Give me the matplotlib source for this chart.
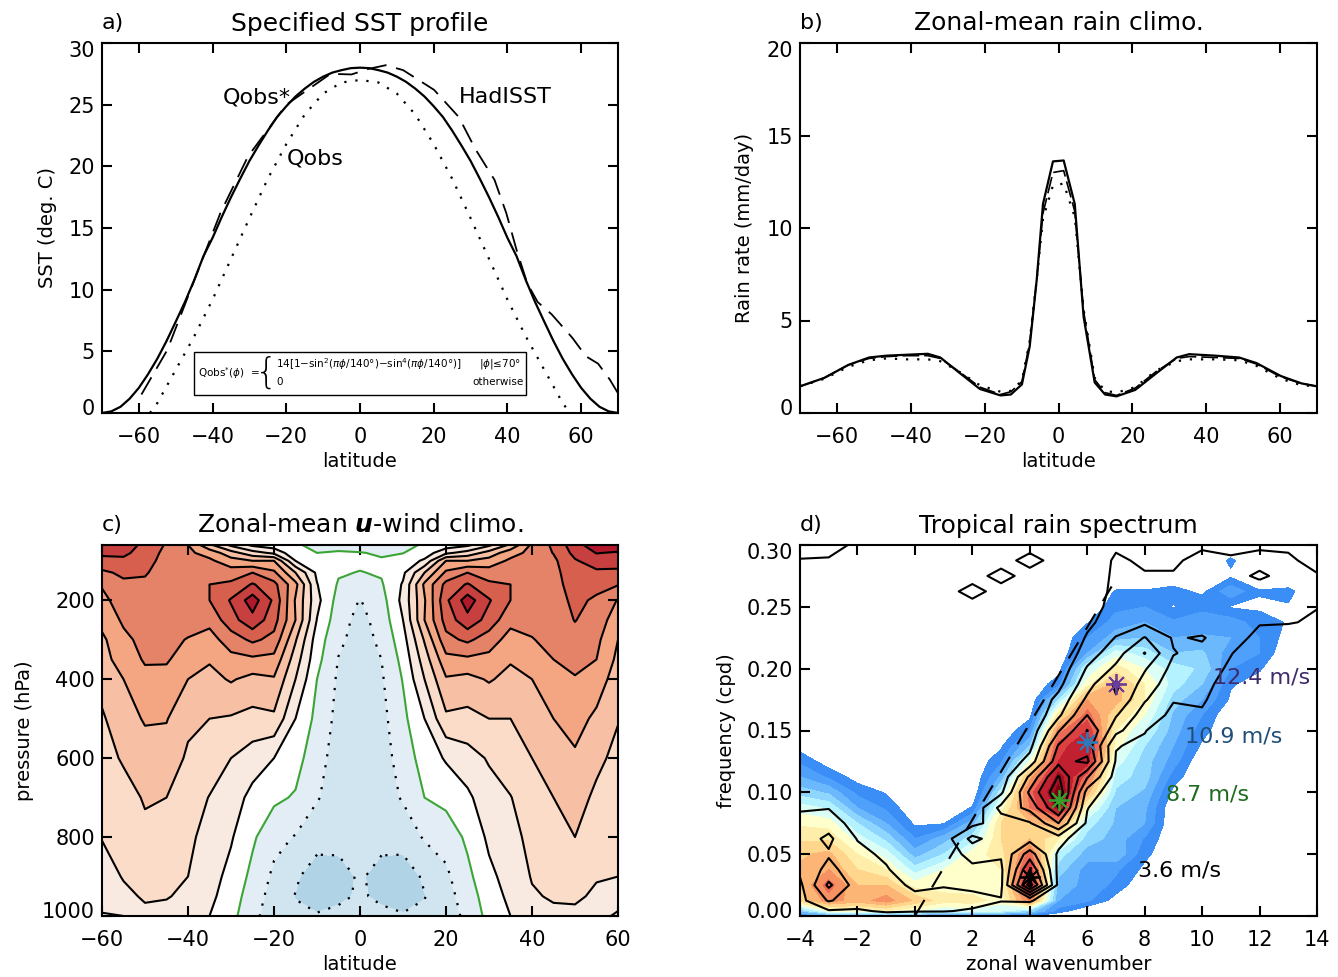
import numpy as np
import matplotlib
matplotlib.use('Agg')
import matplotlib.pyplot as plt
from matplotlib.patches import Rectangle
from matplotlib.transforms import ScaledTranslation

# panel a: SST profiles
lat_qobs_star = [-70, -67.5, -65, -62.5, -60, -57.5, -55, -52.5, -50, -47.5, -45, -42.5, -40, -37.5, -35, -32.5,
                 -30, -27.5, -25, -22.5, -20, -17.5, -15, -12.5, -10, -7.5, -5, -2.5, 0,
                 2.5, 5, 7.5, 10, 12.5, 15, 17.5, 20, 22.5, 25, 27.5, 30, 32.5, 35, 37.5,
                 40, 42.5, 45, 47.5, 50, 52.5, 55, 57.5, 60, 62.5, 65, 67.5, 70]
sst_qobs_star = [0, 0.13, 0.5, 1.16, 2.04, 3.15, 4.4, 5.83, 7.4, 9.0, 10.76, 12.7, 14.2, 15.9, 17.5, 19.0,
                 20.44, 21.7, 22.9, 24, 24.87, 25.66, 26.3, 26.85, 27.27, 27.6, 27.8, 27.96, 28,
                 27.96, 27.8, 27.6, 27.27, 26.85, 26.3, 25.66, 24.87, 24, 22.9, 21.7, 20.44, 19.0, 17.5, 15.9,
                 14.2, 12.7, 10.76, 9.0, 7.4, 5.83, 4.4, 3.15, 2.04, 1.16, 0.5, 0.13, 0]
lat_qobs = [-57, -55, -50, -45, -40, -35, -30, -25, -20, -15, -10, -5, 0,
            5, 10, 15, 20, 25, 30, 35, 40, 45, 50, 55, 57]
sst_qobs = [0, 0.8, 3.5, 6.2, 9.2, 12.5, 15.8, 19, 21.8, 24.2, 25.9, 26.8, 27,
            26.8, 25.9, 24.2, 21.8, 19, 15.8, 12.5, 9.2, 6.2, 3.5, 0.8, 0]
lat_had = [-59.3, -52.3, -45.3, -37.9, -30.4, -20, -8, -2.3, 2.3, 7, 11.7, 20.1, 26.8, 31.3,
           36.5, 39.7, 42.5, 45.4, 48.2, 52, 57.6, 61.3, 64.6, 67.8, 70]
sst_had = [1.5, 5.1, 10.5, 16.2, 20.8, 25, 27.5, 27.45, 27.9, 28.2, 27.8, 26.2, 24, 21.4,
           18.9, 16.2, 13.2, 10.5, 9, 8, 6.1, 4.6, 4, 2.7, 1.6]

# panel b: rain
lat_rain = [-70, -63.4, -56.9, -51.3, -46.6, -41, -35.4, -32, -27, -21.3, -15.7, -12.9, -9.9, -7.8, -5.9,
            -4.2, -1.5, 1.4, 4.4, 6.8, 9.8, 12.6, 15.7, 20.8, 26.5, 32, 35.4, 42.4, 48.9, 53.6, 60.2, 65.8, 70]
rain_solid = [1.44, 1.9, 2.6, 3.0, 3.1, 3.15, 3.2, 3.0, 2.2, 1.3, 0.95, 1.0, 1.55, 3.6, 7.2,
              11.3, 13.6, 13.65, 11.3, 5.2, 1.65, 1.0, 0.9, 1.25, 2.15, 3.0, 3.18, 3.1, 3.0, 2.7, 2.0, 1.6, 1.44]
rain_dash = [1.44, 1.9, 2.6, 2.95, 3.05, 3.1, 3.1, 2.95, 2.25, 1.4, 1.0, 1.15, 1.7, 3.8, 7.2,
             10.8, 13.0, 13.1, 10.9, 5.5, 1.8, 1.1, 0.95, 1.35, 2.25, 2.95, 3.05, 3.0, 2.95, 2.65, 1.95, 1.6, 1.44]
rain_dot = [1.44, 1.85, 2.5, 2.85, 2.95, 2.9, 2.9, 2.8, 2.25, 1.5, 1.15, 1.2, 1.75, 3.9, 7.2,
            10.5, 12.3, 12.4, 10.6, 5.6, 1.9, 1.2, 1.1, 1.4, 2.3, 2.8, 2.9, 2.9, 2.85, 2.55, 1.85, 1.5, 1.44]

# panel c: zonal wind, one row per latitude
lat_u = [-60, -55, -50, -45, -40, -35, -30, -25, -20, -15, -10, -5, 0,
         5, 10, 15, 20, 25, 30, 35, 40, 45, 50, 55, 60]
pres_u = [60, 80, 100, 130, 160, 200, 250, 300, 350, 400, 500, 600, 700, 800, 900, 950, 1000]
u_wind = [
    [38, 36, 33.5, 29, 25.5, 23.5, 21.5, 19, 18, 16.6, 14.4, 13, 11.8, 10.2, 8, 6.5, 4.7],
    [38, 36, 34, 31, 29, 27.7, 25.8, 23.8, 22.5, 20, 17.8, 15.6, 13, 11.5, 10.3, 9, 5],
    [33.5, 33, 32, 30.5, 29, 28, 27.3, 26.5, 25.5, 23.7, 20.5, 17.7, 15.5, 13.8, 11.5, 10.5, 9],
    [29.5, 28.5, 28, 27.5, 27, 27, 26.8, 26, 25.5, 23.5, 20.3, 17.6, 15, 13, 11, 10.3, 8.5],
    [25, 26, 26.5, 27, 27.5, 27.5, 26.5, 24.8, 22.7, 20, 16, 14.3, 12.6, 11, 10, 9, 7.5],
    [16, 23, 26, 28, 30, 30, 26.5, 23, 20.5, 18.5, 15, 12.8, 9.8, 8.3, 7, 6.2, 5],
    [9, 17, 22, 27.5, 31, 35.5, 33, 27.5, 23.5, 20.5, 14.5, 10, 7.5, 5.5, 3.5, 2.5, 1.5],
    [4, 12, 20, 30, 35.5, 42.5, 38.5, 31, 24, 18.5, 13.5, 7.5, 3.5, 0.8, -1.3, -2.5, -3.5],
    [2, 9, 20, 26, 31.5, 34, 32, 28.5, 23.5, 19.5, 14, 5, 1, -3.5, -6, -7, -8],
    [0.7, 1, 5, 15, 21.5, 19.5, 20, 15.5, 12.5, 10, 5, 2, -0.5, -5.3, -9.3, -10.2, -9],
    [-1.5, 0, 2, 4, 5.2, 6.5, 4.8, 2.5, 1.5, 0, -1.5, -3.3, -4.6, -8, -12.5, -12.5, -9.5],
    [-1, 0.3, 1, 0.5, -0.5, -2, -3, -4, -5.2, -5.8, -6.5, -7, -7.5, -8.7, -11.5, -10.8, -9],
    [-2, 0.2, 1, -0.2, -3, -5.2, -6.5, -7, -7.5, -8, -8, -8.3, -8.5, -9, -9.5, -9.5, -8.5],
    [-2, -0.5, 0.4, 0.5, -0.5, -2, -3, -4, -5, -5.6, -6.5, -7, -7.5, -8.7, -11.5, -10.8, -9],
    [-1.2, -0.1, 1.5, 4, 5.5, 6.5, 5, 3, 1.5, 0.3, -1.3, -3, -4.5, -8, -12.5, -12.5, -9.5],
    [0.5, 2, 6, 15, 21, 19.5, 20, 15.5, 12.5, 10, 5, 2.3, 0, -4.5, -9.3, -10.2, -9],
    [2, 9, 20, 26, 31.5, 34, 32, 28.5, 23.5, 19.5, 14, 5.5, 1.5, -3, -6, -7, -8],
    [4, 12, 20, 30, 35.5, 42.5, 38.5, 31, 24, 18.5, 13.5, 8, 4, 1, -1.3, -2.5, -3.5],
    [9, 17, 22, 27.5, 31, 35.5, 33, 27.5, 23.5, 20.5, 15, 10.5, 8, 6, 3.8, 2.5, 1.5],
    [16, 23, 26, 28, 30, 30, 26.5, 23, 20.5, 18.5, 15, 12.8, 9.8, 8.3, 7, 6.2, 5],
    [26, 26.5, 27, 27.5, 27.5, 27.2, 26.2, 24.8, 22.5, 20, 17, 15, 13, 11.5, 10.3, 9.5, 7],
    [31, 30.2, 29, 28.3, 28, 27.7, 27, 26.2, 25, 23.5, 20, 17.3, 15, 13.5, 11.5, 10.5, 9],
    [38, 36.5, 34.5, 33.5, 32.5, 31.2, 30.2, 28.2, 27, 24.5, 21.8, 19.3, 17.2, 15, 12, 10.7, 9],
    [43, 40.2, 37.5, 34, 31.5, 29.2, 27.5, 26.2, 25, 22.5, 19, 16.3, 13.9, 12, 10.3, 9.3, 7],
    [43, 39.5, 37, 34, 30.3, 24.7, 22.5, 20, 18.8, 17.6, 15.3, 13.5, 12, 11, 10, 8, 4],
]
u_fill_levels = [-15, -10, -5, 0, 5, 10, 15, 20, 25, 30, 35, 40, 45]
u_fill_colors = ['#b1d3e6', '#d1e5f1', '#e3edf5', '#ffffff', '#f9eae1', '#fbdcc9', '#f7bfa4',
                 '#f4a582', '#e58368', '#d6604d', '#c73f3f', '#b2182b']

# panel d: spectrum, one row per wavenumber, frequency going up
wavenumber = list(range(-4, 15))
freq = [0, 0.004, 0.0125, 0.025, 0.0375, 0.05, 0.0625, 0.075, 0.0875, 0.1, 0.1125, 0.125, 0.1375,
        0.15, 0.1625, 0.175, 0.1875, 0.2, 0.2125, 0.225, 0.2375, 0.25, 0.2625, 0.275, 0.2875, 0.3]
power_fill = [
    [2, 4, 9.3, 10, 10.2, 9.8, 8.8, 7.8, 6.5, 4.5, 3, 1.8, 0.5] + [0]*13,
    [2.5, 7, 11.5, 12.5, 11, 10.3, 8.8, 7.5, 5.8, 3.8, 1.8, 0.4] + [0]*14,
    [3, 7.5, 10.5, 10, 9, 8, 6.5, 5, 3, 1.7, 0.5] + [0]*15,
    [3, 8, 11.5, 10, 8, 6.5, 4.7, 3, 1.8, 0.9] + [0]*16,
    [2.5, 7, 9.8, 7.5, 5.5, 3.5, 2, 0.8] + [0]*18,
    [2, 6, 8.5, 7.5, 7, 5, 3.5, 0.9] + [0]*18,
    [1.8, 6.5, 8.5, 7.2, 7.5, 7.5, 5.5, 3.5, 1.1] + [0]*17,
    [1.5, 6, 7.5, 7.5, 8, 8.5, 9, 9, 7.5, 5.5, 3.2, 1.8, 0.8] + [0]*13,
    [1.2, 4.5, 12, 15, 14, 12.5, 10, 9.8, 12, 12.5, 10.5, 7, 4, 2, 0.6] + [0]*11,
    [0, 1.5, 3, 3.5, 4.5, 5.5, 8, 11, 15.5, 16.5, 15.5, 14, 13.5, 11.5, 8.5, 5, 1.6, 0.5] + [0]*8,
    [0, 0, 2.2, 2.7, 2.5, 3.5, 4.5, 5.5, 7.5, 10.5, 12.5, 14.5, 15, 14, 12.5, 11, 7.5, 6, 3, 2, 0.9] + [0]*5,
    [0, 0, 0.5, 1.7, 2.2, 3.8, 3.6, 3.8, 4, 4.8, 5.5, 6.5, 7.5, 8, 9, 10.5, 10.5, 8.5, 6.5, 3.5, 2.5, 1.7, 1.1, 0, 0, 0],
    [0, 0, 0, 0, 0.7, 1.3, 1.9, 3, 3.2, 3.8, 4.5, 4.5, 5, 6, 7, 8, 8, 7, 5.5, 4, 3, 2, 1.1, 0, 0, 0],
    [0, 0, 0, 0, 0, 0, 0, 0, 0, 0.7, 1.5, 2.5, 3, 3.5, 3.8, 4.5, 5.5, 5.5, 4, 3, 2.2, 0.9, 1.5, 0, 0, 0],
    [0]*12 + [0.8, 1.4, 2, 3, 4, 4.8, 4.2, 3.2, 2.2, 1.9, 0.7, 0, 0, 0],
    [0]*15 + [0.8, 1.1, 2, 2.4, 3, 2.5, 0.9, 2.8, 0.8, 1.2, 0],
    [0]*16 + [0.6, 1.1, 2, 2, 1.5, 0.8, 1.1, 0, 0, 0],
    [0]*19 + [0.5, 0.9, 0.9, 1.3, 0, 0, 0],
    [0]*26,
]
power_line = [
    [0, 0.3, 0.7, 0.8, 1.2, 1.5, 1.5, 1.3, 0.9, 0.3] + [0]*13 + [0.6, 0.95, 1.4],
    [0, 0.9, 2.1, 3.2, 2.3, 1.9, 2.2, 1.6, 0.95, 0.4] + [0]*13 + [0.5, 0.95, 1.2],
    [0.5, 0.9, 1.4, 1.5, 1.4, 1.3, 0.95, 0.5] + [0]*17 + [0.9],
    [0.7, 1.1, 1.5, 1.4, 1.1, 0.8, 0.4] + [0]*19,
    [0.6, 1.05, 1.3, 0.8, 0.3] + [0]*21,
    [0.5, 1.05, 1.3, 0.95, 0.5, 0.5, 0.5, 0.3] + [0]*18,
    [0.3, 0.9, 1.3, 0.8, 0.8, 1.3, 2.3, 0.7, 0.2] + [0]*13 + [1.9, 0, 0, 0],
    [0, 0.5, 1.05, 0.8, 0.8, 1.1, 1.4, 1.5, 2.3, 0.8, 0.3] + [0]*12 + [1.9, 0, 0],
    [0, 0.4, 1.1, 6.5, 5, 3.5, 1.6, 1.9, 3.3, 4.2, 3.2, 1.4, 0.7, 0.3] + [0]*10 + [1.9, 0],
    [0, 0, 0.3, 0.7, 0.7, 0.8, 1.5, 4, 6, 6.8, 6.1, 4.7, 4.1, 2.9, 1.8, 1.3, 0.7, 0.3, 0] + [0]*7,
    [0, 0, 0, 0, 0, 0, 0, 0.8, 1.05, 1.6, 3.1, 5.2, 4.6, 5.05, 4, 3.2, 2.6, 2.1, 1.5, 1.1, 0.8, 0.5, 0.3, 0, 0, 0],
    [0, 0, 0, 0, 0, 0, 0, 0, 0, 0.3, 0.6, 0.9, 1.05, 2.3, 3.1, 3.9, 4.2, 3.2, 2.6, 2.05, 1.5, 1.4, 1.3, 1.3, 1.2, 0.8],
    [0]*11 + [0.3, 0.8, 1.05, 1.5, 2.1, 2.6, 3.1, 4.05, 3.05, 1.8, 1.6, 1.5, 1.1, 0.8, 0.8],
    [0]*13 + [0.3, 0.8, 1.05, 1.4, 1.7, 2.05, 1.9, 1.5, 1.4, 1.3, 1.05, 0.9, 0.5],
    [0]*14 + [0.8, 1.2, 1.5, 1.6, 1.7, 2.1, 1.4, 1.4, 1.3, 1.2, 1.2, 0.9],
    [0]*16 + [0.3, 0.8, 1.05, 1.3, 1.5, 1.4, 1.3, 1.2, 1.05, 0.9],
    [0]*18 + [0.3, 0.8, 1.05, 1.3, 1.3, 0.9, 1.2, 0.9],
    [0]*18 + [0.2, 0.6, 1.05, 1.3, 1.3, 1.2, 1.1, 0.9],
    [0]*19 + [0.5, 0.9, 1.02, 1.3, 1.05, 0.8, 1.0],
]
power_levels = list(range(1, 18))
power_colors = ['#3b8ef5', '#4fa0fa', '#6cb8fd', '#8fd6ff', '#b5f2ff', '#dcfff5', '#ffffcc', '#ffeeaa',
                '#ffd68c', '#fcb574', '#f69262', '#ea6a55', '#dc4040', '#c02030', '#a01020', '#7a0010']
line_levels = [1, 2, 3, 4, 5, 6, 7, 8]
dash_wave = [0, 6.85]
dash_freq = [0, 0.2665]
star_wave = [4, 5, 6, 7]
star_freq = [0.0318, 0.0939, 0.141, 0.1877]
star_colors = ['black', '#33a02c', '#2b7bba', '#6a3d9a']
speed_labels = ['3.6 m/s', '8.7 m/s', '10.9 m/s', '12.4 m/s']
speed_wave = [7.77, 8.74, 9.4, 10.38]
speed_freq = [0.0364, 0.0986, 0.1455, 0.1925]
speed_colors = ['black', '#1e6b1e', '#1f4e79', '#3f2a6b']

W, H = 1338, 977
FS = 15
plt.rcParams['font.family'] = 'DejaVu Sans'
plt.rcParams['mathtext.fontset'] = 'dejavusans'
fig = plt.figure(figsize=(W/100, H/100), dpi=100)


def make_axes(x0, x1, y0, y1):
    ax = fig.add_axes([x0/W, 1 - y1/H, (x1 - x0)/W, (y1 - y0)/H])
    for s in ax.spines.values():
        s.set_linewidth(1.5)
    ax.tick_params(direction='in', top=True, right=True, length=7.5, width=1.5, labelsize=FS)
    ax.tick_params(axis='x', pad=10)
    ax.tick_params(axis='y', pad=5)
    return ax


def shift_label(label, px):
    # end labels sit a few pixels inside the axis, like in the original
    label.set_transform(label.get_transform() + ScaledTranslation(0, px/100, fig.dpi_scale_trans))


def finish(ax, tag, title, xlabel, ylabel, ylab_px, ax_x0, width):
    ax.text(0, 1 + 20/(ax.get_position().height*H), tag, transform=ax.transAxes, fontsize=FS + 1,
            va='center', ha='left')
    ax.set_title(title, fontsize=18, pad=9)
    ax.set_xlabel(xlabel, fontsize=FS - 1, labelpad=3.5)
    ax.set_ylabel(ylabel, fontsize=FS - 1)
    ax.yaxis.set_label_coords((ylab_px + 11 - ax_x0)/width, 0.5)


# a)
ax = make_axes(102, 618, 43, 413)
ax.plot(lat_qobs_star, sst_qobs_star, color='k', lw=1.6)
ax.plot(lat_qobs, sst_qobs, color='k', lw=1.6, ls=(0, (1, 4)))
ax.plot(lat_had, sst_had, color='k', lw=1.3, ls=(0, (11, 5.5)))
ax.set_xlim(-70, 70)
ax.set_ylim(0, 30)
ax.set_xticks(range(-60, 61, 20))
ax.set_yticks(range(0, 31, 5))
ax.text(-37.2, 25.6, 'Qobs*', fontsize=16, va='center')
ax.text(26.9, 25.6, 'HadISST', fontsize=16, va='center')
ax.text(-20, 20.6, 'Qobs', fontsize=16, va='center')
ax.add_patch(Rectangle((-45, 1.46), 90, 3.49, fc='white', ec='k', lw=1, zorder=4))
ax.text(-44, 3.24, r'Qobs$^{*}$($\phi$)  =', fontsize=7.5, va='center', zorder=5)
ax.text(-28.5, 3.24, '{', fontsize=26, va='center', ha='left', fontweight='ultralight', zorder=5)
ax.text(-22.8, 3.97, r'14[1$-$sin$^{2}$($\pi\phi$/140°)$-$sin$^{4}$($\pi\phi$/140°)]', fontsize=7.5,
        va='center', zorder=5)
ax.text(-22.8, 2.5, '0', fontsize=7.5, va='center', zorder=5)
ax.text(43.7, 3.97, r'|$\phi$|≤70°', fontsize=7.5, va='center', ha='right', zorder=5)
ax.text(44.3, 2.5, 'otherwise', fontsize=7.5, va='center', ha='right', zorder=5)
finish(ax, 'a)', 'Specified SST profile', 'latitude', 'SST (deg. C)', 46, 102, 516)
labs = ax.get_yticklabels()
shift_label(labs[0], 6)
shift_label(labs[-1], -6)

# b)
ax = make_axes(800, 1317, 43, 413)
ax.plot(lat_rain, rain_dot, color='k', lw=1.6, ls=(0, (1, 4)))
ax.plot(lat_rain, rain_dash, color='k', lw=1.2, ls=(0, (10, 3)))
ax.plot(lat_rain, rain_solid, color='k', lw=1.6)
ax.set_xlim(-70, 70)
ax.set_ylim(0, 20)
ax.set_xticks(range(-60, 61, 20))
ax.set_yticks(range(0, 21, 5))
finish(ax, 'b)', 'Zonal-mean rain climo.', 'latitude', 'Rain rate (mm/day)', 743, 800, 517)
labs = ax.get_yticklabels()
shift_label(labs[0], 6)
shift_label(labs[-1], -6)

# c)
ax = make_axes(102, 618, 545, 916)
u = np.array(u_wind).T
ax.contourf(lat_u, pres_u, u, levels=u_fill_levels, colors=u_fill_colors)
ax.contour(lat_u, pres_u, u, levels=[5, 10, 15, 20, 25, 30, 35, 40], colors='k', linewidths=1.5,
           linestyles='solid')
ax.contour(lat_u, pres_u, u, levels=[0], colors='#3aa535', linewidths=1.5, linestyles='solid')
ax.contour(lat_u, pres_u, u, levels=[-10, -5], colors='k', linewidths=1.6, linestyles=[(0, (1, 4))])
ax.set_xlim(-60, 60)
ax.set_ylim(1000, 60)
ax.set_xticks(range(-60, 61, 20))
ax.set_yticks([200, 400, 600, 800, 1000])
finish(ax, 'c)', r'Zonal-mean $\boldsymbol{u}$-wind climo.', 'latitude', 'pressure (hPa)', 23, 102, 516)
shift_label(ax.get_yticklabels()[-1], 6)

# d)
ax = make_axes(800, 1317, 545, 916)
fill = np.array(power_fill).T
line = np.array(power_line).T
ax.contourf(wavenumber, freq, fill, levels=power_levels, colors=power_colors)
ax.contour(wavenumber, freq, line, levels=line_levels, colors='k', linewidths=1.5, linestyles='solid')
ax.plot(dash_wave, dash_freq, color='k', lw=1.5, ls=(0, (9, 7)))
for kk, ff, cc in zip(star_wave, star_freq, star_colors):
    ax.plot(kk, ff, marker=(8, 2, 0), ms=15, mew=1.3, color=cc, ls='none', zorder=5)
for lab, kk, ff, cc in zip(speed_labels, speed_wave, speed_freq, speed_colors):
    ax.text(kk, ff, lab, color=cc, fontsize=16, va='center', zorder=6)
ax.set_xlim(-4, 14)
ax.set_ylim(0, 0.30)
ax.set_xticks(range(-4, 15, 2))
ax.set_yticks([0, 0.05, 0.10, 0.15, 0.20, 0.25, 0.30])
ax.set_yticklabels(['0.00', '0.05', '0.10', '0.15', '0.20', '0.25', '0.30'])
finish(ax, 'd)', 'Tropical rain spectrum', 'zonal wavenumber', 'frequency (cpd)', 725, 800, 517)
labs = ax.get_yticklabels()
shift_label(labs[0], 6)
shift_label(labs[-1], -6)

fig.savefig('out.png', dpi=100)
